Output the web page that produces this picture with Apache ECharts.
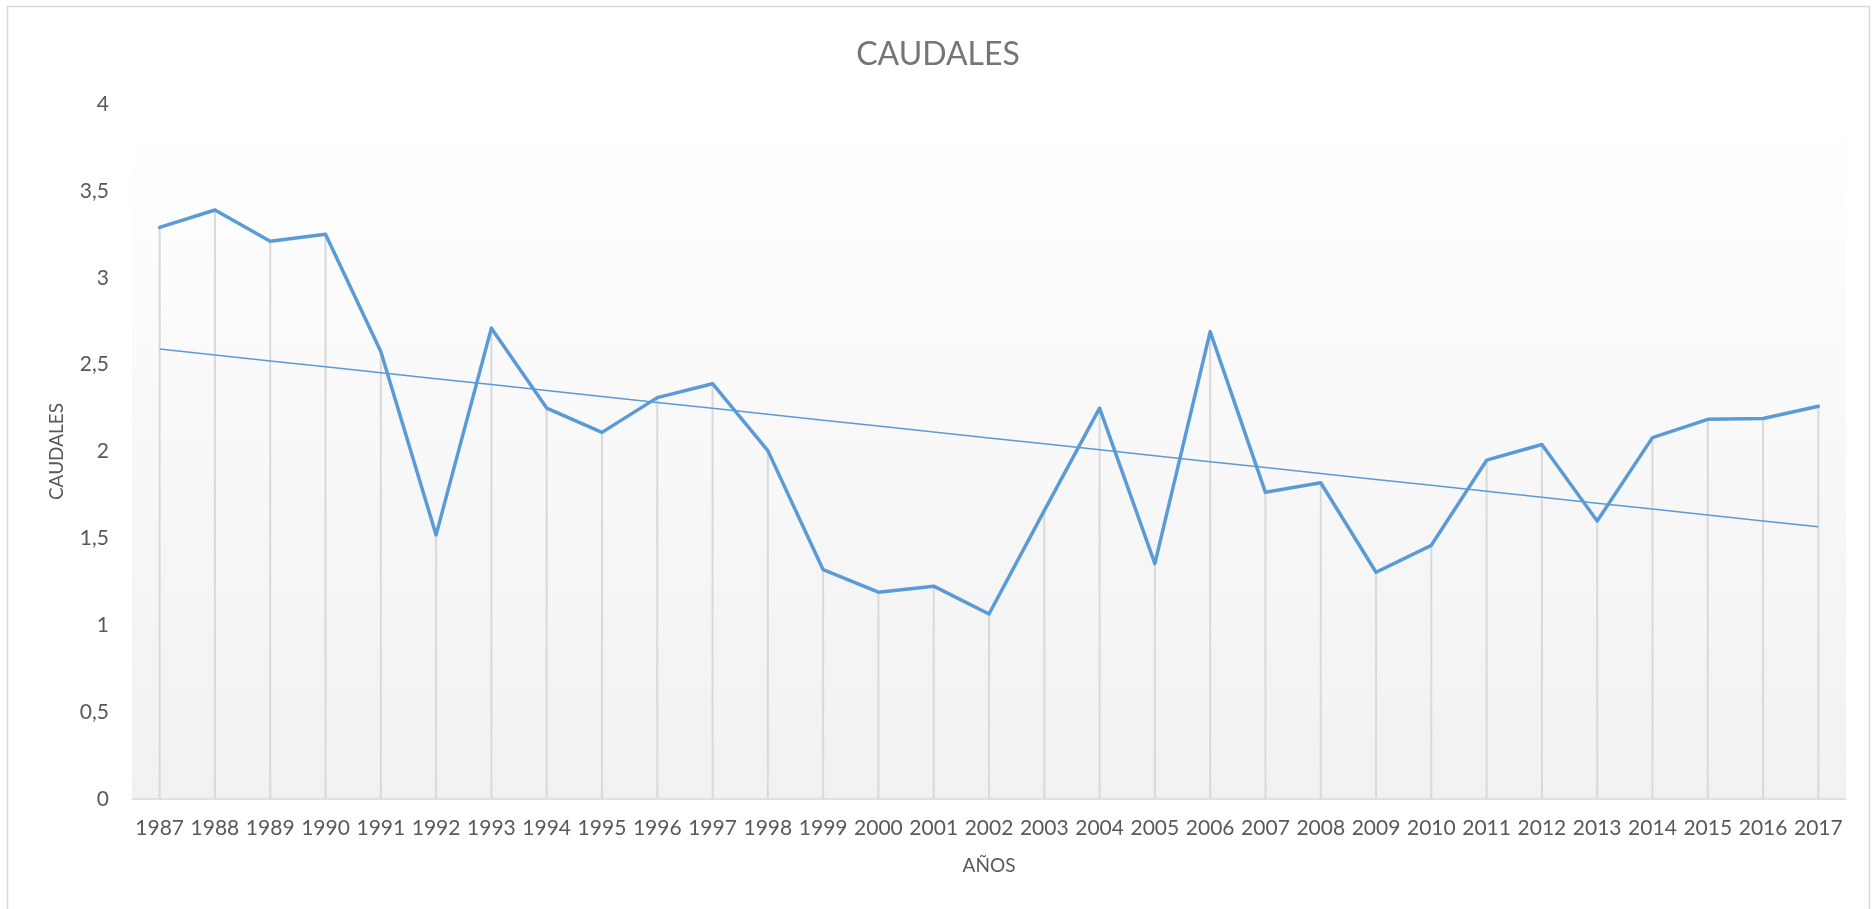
<!DOCTYPE html>
<html>
<head>
<meta charset="utf-8">
<script src="https://cdn.jsdelivr.net/npm/echarts@6/dist/echarts.min.js"></script>
<style>
html,body{margin:0;padding:0;background:#fff;}
#chart{width:1876px;height:909px;}
</style>
</head>
<body>
<div id="chart"></div>
<script>
const years = ['1987','1988','1989','1990','1991','1992','1993','1994','1995','1996','1997','1998','1999','2000','2001','2002','2003','2004','2005','2006','2007','2008','2009','2010','2011','2012','2013','2014','2015','2016','2017'];
const caudales = [3.29,3.39,3.21,3.25,2.575,1.52,2.71,2.25,2.11,2.31,2.39,2.005,1.32,1.19,1.225,1.065,1.66,2.25,1.355,2.69,1.765,1.82,1.305,1.46,1.95,2.04,1.6,2.08,2.185,2.19,2.26];
const titleText = 'CAUDALES';
const xName = 'AÑOS';
const yName = 'CAUDALES';

// Linear (least squares) trendline, as Excel computes it from the series
const n = caudales.length;
let sx = 0, sy = 0, sxy = 0, sxx = 0;
caudales.forEach((v, i) => { sx += i; sy += v; sxy += i * v; sxx += i * i; });
const slope = (n * sxy - sx * sy) / (n * sxx - sx * sx);
const intercept = (sy - slope * sx) / n;
const trend = caudales.map((v, i) => +(intercept + slope * i).toFixed(4));

const chart = echarts.init(document.getElementById('chart'), null, {renderer: 'canvas'});
const FONT = 'Lato';
chart.setOption({
  animation: false,
  textStyle: {fontFamily: FONT},
  title: {
    text: titleText,
    left: 'center',
    top: 34,
    textStyle: {fontFamily: FONT, fontSize: 32, fontWeight: 'normal', color: '#767676'}
  },
  graphic: [{
    type: 'rect',
    shape: {x: 7.5, y: 6.5, width: 1862, height: 920},
    style: {fill: 'none', stroke: '#d9d9d9', lineWidth: 1.5},
    silent: true
  }],
  grid: {
    left: 132, right: 30, top: 104, bottom: 110,
    show: true,
    borderWidth: 0,
    backgroundColor: new echarts.graphic.LinearGradient(0, 0, 0, 1, [
      {offset: 0, color: '#ffffff'},
      {offset: 1, color: '#f1f1f1'}
    ])
  },
  xAxis: {
    type: 'category',
    data: years,
    boundaryGap: true,
    name: xName,
    nameLocation: 'middle',
    nameGap: 57,
    nameTextStyle: {fontFamily: FONT, fontSize: 19, color: '#595959'},
    axisLine: {lineStyle: {color: '#d9d9d9', width: 1.5}},
    axisTick: {show: false},
    axisLabel: {fontFamily: FONT, fontSize: 21, color: '#595959', margin: 19, interval: 0},
    splitLine: {show: false}
  },
  yAxis: {
    type: 'value',
    min: 0, max: 4, interval: 0.5,
    name: yName,
    nameLocation: 'middle',
    nameGap: 66,
    nameTextStyle: {fontFamily: FONT, fontSize: 19, color: '#595959'},
    axisLine: {show: false},
    axisTick: {show: false},
    splitLine: {show: false},
    axisLabel: {
      fontFamily: FONT, fontSize: 21, color: '#595959', margin: 23,
      formatter: v => String(v).replace('.', ',')
    }
  },
  series: [
    {
      name: 'drop',
      type: 'bar',
      data: caudales,
      barWidth: 2,
      itemStyle: {color: '#d9d9d9'},
      silent: true,
      z: 1
    },
    {
      name: 'Caudales',
      type: 'line',
      data: caudales,
      showSymbol: false,
      symbol: 'none',
      lineStyle: {color: '#5b9bd5', width: 3.5, join: 'round', cap: 'round'},
      z: 3
    },
    {
      name: 'Lineal',
      type: 'line',
      data: trend,
      showSymbol: false,
      symbol: 'none',
      lineStyle: {color: '#5b9bd5', width: 1.5},
      z: 2
    }
  ]
});
</script>
</body>
</html>
